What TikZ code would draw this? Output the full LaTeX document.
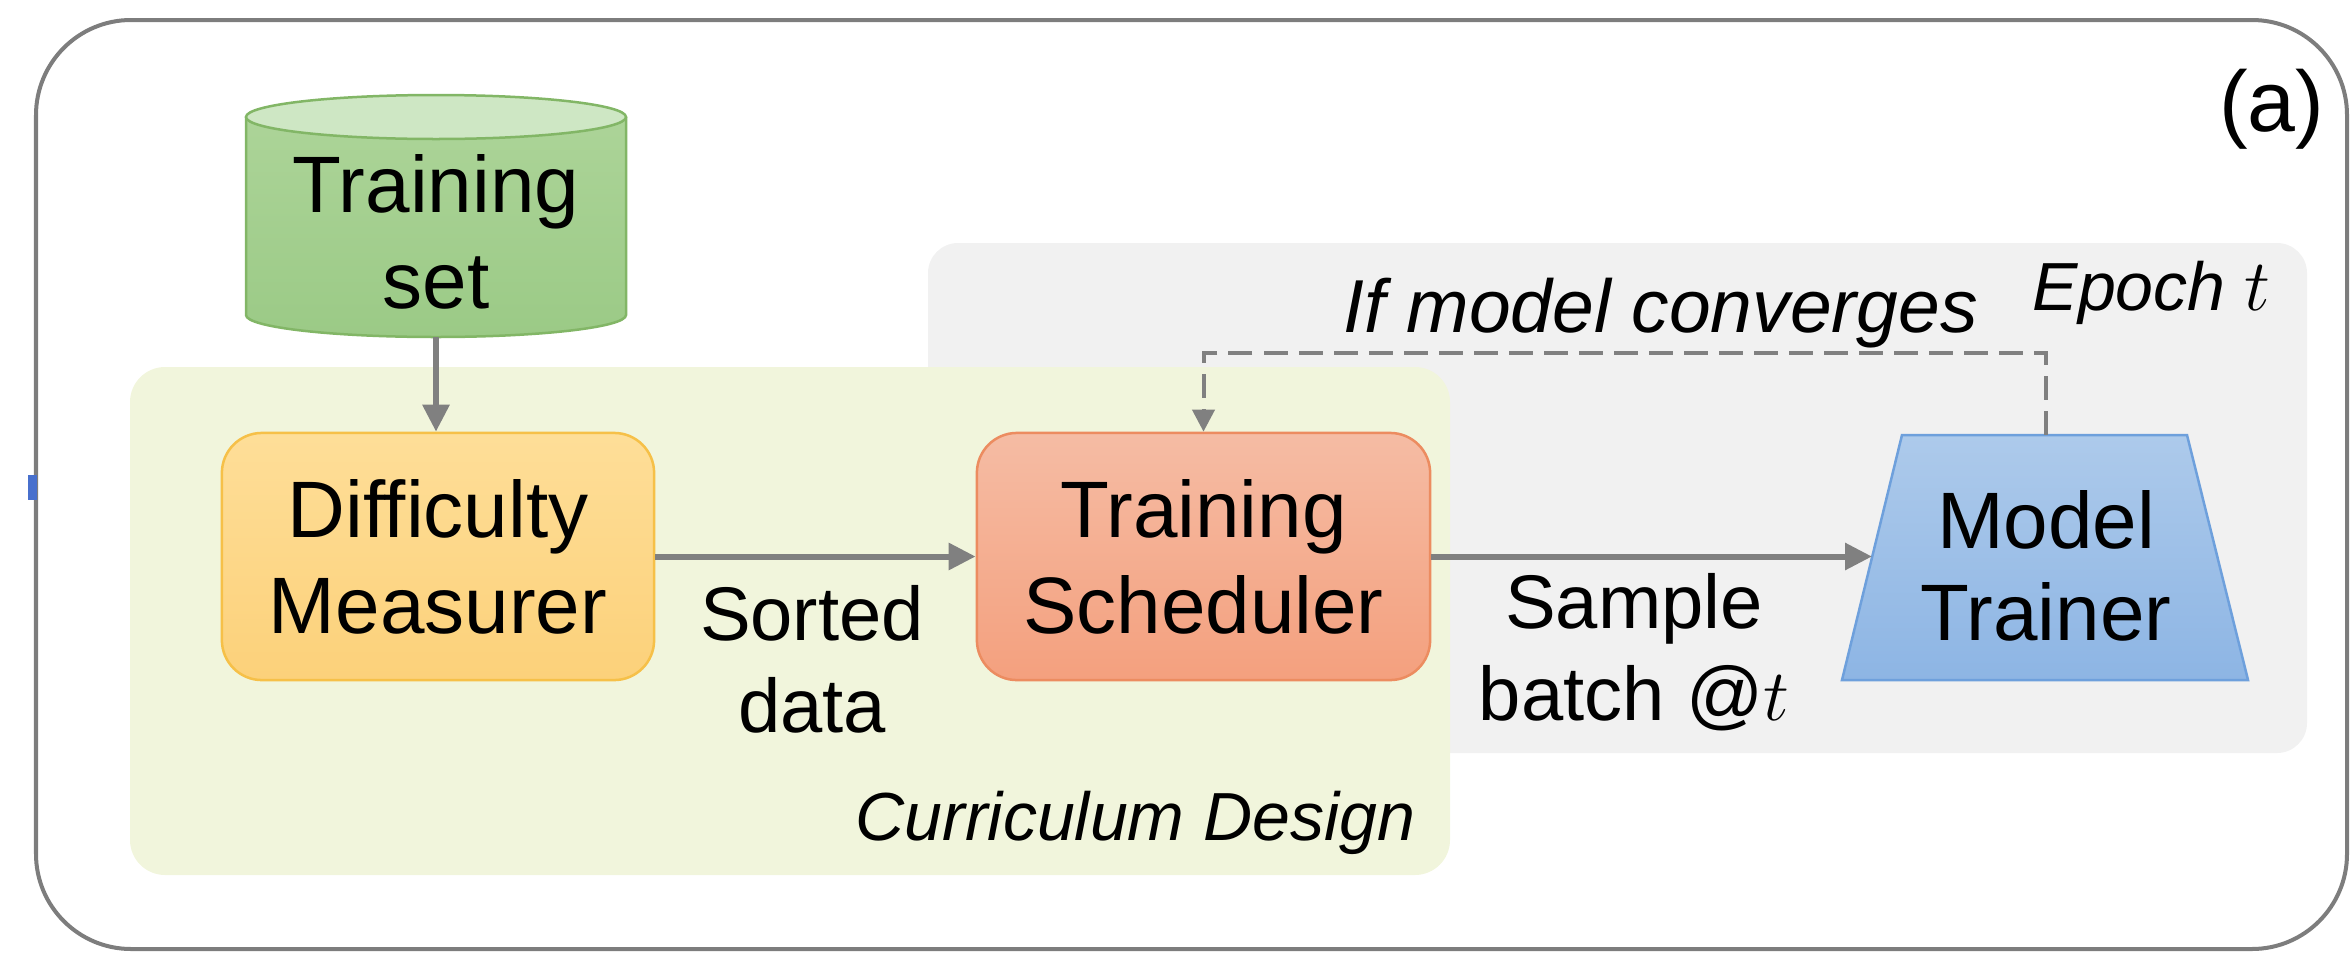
\documentclass[tikz,border=0pt]{standalone}
\usepackage{fontspec}
\setmainfont{Liberation Sans}
\usetikzlibrary{arrows.meta}

% palette
\definecolor{frameline}{RGB}{125,125,125}
\definecolor{epochfill}{RGB}{241,241,241}
\definecolor{currfill}{RGB}{241,245,220}
\definecolor{cylside}{RGB}{172,212,152}
\definecolor{cylbase}{RGB}{155,202,134}
\definecolor{cyltop}{RGB}{206,231,196}
\definecolor{cylline}{RGB}{130,182,102}
\definecolor{dmtop}{RGB}{254,222,152}
\definecolor{dmbot}{RGB}{252,209,122}
\definecolor{dmline}{RGB}{246,192,72}
\definecolor{tstop}{RGB}{245,188,164}
\definecolor{tsbot}{RGB}{244,160,126}
\definecolor{tsline}{RGB}{236,140,96}
\definecolor{mttop}{RGB}{173,202,235}
\definecolor{mtbot}{RGB}{141,181,228}
\definecolor{mtline}{RGB}{110,160,220}
\definecolor{flowgray}{RGB}{128,128,128}
\definecolor{tickblue}{RGB}{72,112,205}

% type sizes (1 unit = 0.01cm)
\newcommand\boxfont{\fontsize{22.76pt}{27.31pt}\selectfont}
\newcommand\trainfont{\fontsize{22.76pt}{26.18pt}\selectfont}
\newcommand\edgefont{\fontsize{21.62pt}{26.18pt}\selectfont}
\newcommand\notefont{\fontsize{21.34pt}{25pt}\selectfont\itshape}
\newcommand\tagfont{\fontsize{19.35pt}{23pt}\selectfont\itshape}
\newcommand\panelfont{\fontsize{24.47pt}{29pt}\selectfont}
\newcommand\twolines[1]{\begin{tabular}[t]{@{}c@{}}#1\end{tabular}}

\tikzset{
  stagebox/.style={rectangle, rounded corners=0.4cm, line width=0.025cm,
    inner sep=0pt, minimum height=2.47cm, font=\boxfont,
    text height=0pt, text depth=0.38cm},
  label text/.style={inner sep=0pt, anchor=base},
  flow/.style={draw=flowgray, line width=0.06cm,
    -{Triangle[length=0.27cm,width=0.26cm]}},
  feedback/.style={draw=flowgray, line width=0.04cm,
    dash pattern=on 0.24cm off 0.11cm,
    -{Triangle[length=0.22cm,width=0.22cm]}},
}

\begin{document}
\begin{tikzpicture}[x=0.01cm, y=-0.01cm]
\useasboundingbox (0,0) rectangle (2351,954);

% outer frame
\draw[frameline, line width=0.04cm, rounded corners=0.95cm]
  (36,20) rectangle (2347,949);
\fill[tickblue] (28,475) rectangle (37,500);

% epoch region and curriculum region
\fill[epochfill, rounded corners=0.3cm] (928,243) rectangle (2307,753);
\fill[currfill, rounded corners=0.35cm] (130,367) rectangle (1450,875);

% training set cylinder
\shade[top color=cylside, bottom color=cylbase]
  (246,117) -- (246,315) arc[start angle=180, end angle=0, x radius=190, y radius=22]
  -- (626,117) -- cycle;
\draw[cylline, line width=0.025cm]
  (246,117) -- (246,315) arc[start angle=180, end angle=0, x radius=190, y radius=22]
  -- (626,117);
\draw[cylline, line width=0.025cm, fill=cyltop] (436,117) ellipse[x radius=190, y radius=22];
\coordinate (setbottom) at (436,337);
\node[label text, font=\boxfont] (settext) at (436,212) {\twolines{Training\\set}};

% stages
\node[stagebox, minimum width=4.32cm, top color=dmtop, bottom color=dmbot, draw=dmline]
  (dm) at (438,556.5) {\twolines{Difficulty\\Measurer}};
\node[stagebox, minimum width=4.53cm, top color=tstop, bottom color=tsbot, draw=tsline]
  (ts) at (1203.5,556.5) {\twolines{Training\\Scheduler}};

% model trainer trapezoid
\coordinate (mtTL) at (1902,435);
\coordinate (mtTR) at (2187,435);
\coordinate (mtBR) at (2248,680);
\coordinate (mtBL) at (1842,680);
\shade[top color=mttop, bottom color=mtbot] (mtTL) -- (mtTR) -- (mtBR) -- (mtBL) -- cycle;
\draw[mtline, line width=0.025cm] (mtTL) -- (mtTR) -- (mtBR) -- (mtBL) -- cycle;
\node[label text, font=\trainfont] (mt) at (2046,548) {\twolines{Model\\Trainer}};
\coordinate (mtleft) at (1872,556.5);
\coordinate (mttopmid) at (2046,435);
\coordinate (loopcorner) at (2046,353);

% connectors
\draw[flow] (setbottom) -- (setbottom |- dm.north);
\draw[flow] (dm.east) -- (ts.west);
\draw[flow] (ts.east) -- (ts.east -| mtleft);
\draw[feedback] (mttopmid) -- (loopcorner) -| (ts.north);

% connector labels
\node[label text, font=\edgefont] (sorted) at (812,640) {\twolines{Sorted\\data}};
\node[label text, font=\edgefont] (sample) at (1634,628) {\twolines{Sample\\batch @$t$}};
\node[label text, font=\notefont] (converge) at (1661,332) {If model converges};

% region captions
\node[label text, anchor=base west, font=\tagfont] (epoch) at (2032,310) {Epoch $t$};
\node[label text, anchor=base east, font=\tagfont] (curriculum) at (1416,840) {Curriculum Design};
\node[label text, anchor=base east, font=\panelfont] (panel) at (2325,131) {(a)};
\end{tikzpicture}
\end{document}
